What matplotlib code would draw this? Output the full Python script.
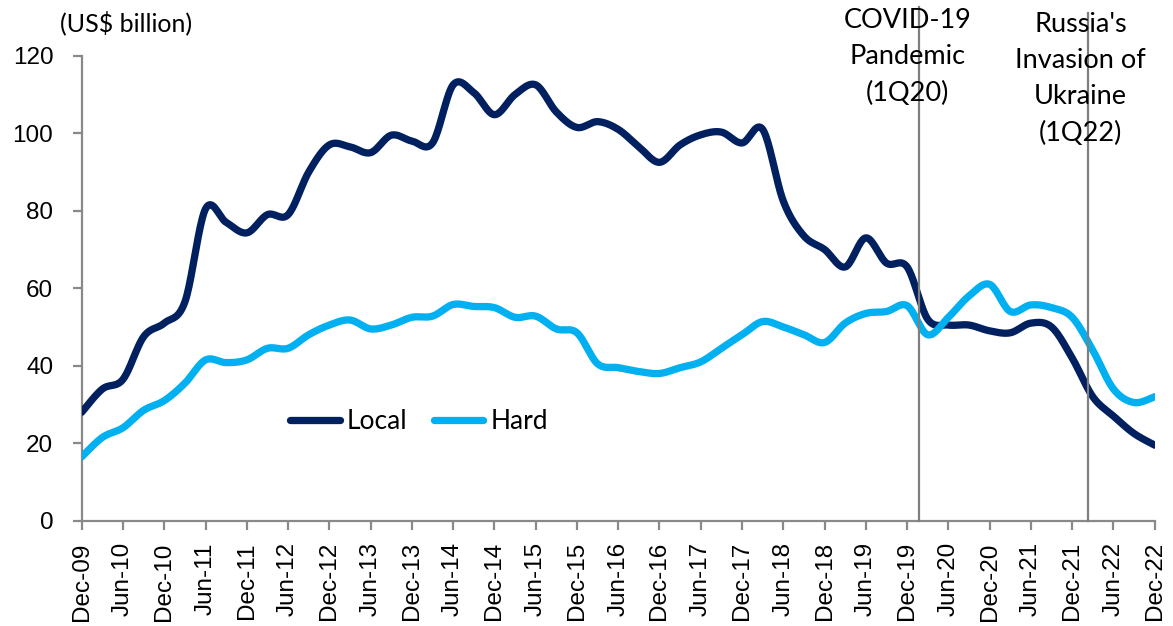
import numpy as np
import matplotlib
matplotlib.use("Agg")
import matplotlib.pyplot as plt

# quarterly issuance, Dec-09 .. Dec-22 (US$ billion)
local = [28, 34, 36.5, 47.5, 51, 56.5, 80.5, 77, 74.3, 79, 79, 90, 97,
         96.5, 95, 99.5, 98, 97.5, 112.5, 110.5, 104.8, 110, 112.5, 105.5,
         101.5, 103, 101, 96.5, 92.5, 97, 99.6, 100.3, 97.5, 101, 82.5,
         73.5, 70, 65.5, 73, 66.5, 65.5, 52, 50.5, 50.5, 49, 48.5, 51, 50,
         42, 32, 27, 22.5, 19.5]
hard = [16.5, 21.5, 24, 28.5, 31, 35.5, 41.5, 40.8, 41.5, 44.5, 44.5, 48,
        50.5, 51.8, 49.5, 50.5, 52.5, 52.8, 55.8, 55.3, 55, 52.5, 52.8,
        49.5, 48.5, 40.5, 39.5, 38.5, 38, 39.5, 41, 44.5, 48, 51.4, 50, 48,
        46, 51, 53.5, 54, 55.5, 48, 52.5, 58, 61, 54, 55.7, 55, 52.5, 44,
        34, 30.5, 32]
tick_labels = ["Dec-09", "Jun-10", "Dec-10", "Jun-11", "Dec-11", "Jun-12",
               "Dec-12", "Jun-13", "Dec-13", "Jun-14", "Dec-14", "Jun-15",
               "Dec-15", "Jun-16", "Dec-16", "Jun-17", "Dec-17", "Jun-18",
               "Dec-18", "Jun-19", "Dec-19", "Jun-20", "Dec-20", "Jun-21",
               "Dec-21", "Jun-22", "Dec-22"]
events = ["COVID-19\nPandemic\n(1Q20)", "Russia's\nInvasion of\nUkraine\n(1Q22)"]
event_pos = [40.6, 48.75]  # quarter index of the marker lines

LOCAL_COL = "#002060"
HARD_COL = "#00B0F0"
GREY = "#898989"
TXT_FONT = ["Lato", "DejaVu Sans"]
TICK_FONT = ["Liberation Sans", "DejaVu Sans"]


def smooth(y, n=20):
    """Excel-like smoothed line (Catmull-Rom through every point)."""
    y = np.asarray(y, float)
    x = np.arange(len(y), dtype=float)
    pts = np.column_stack([x, y])
    out = []
    for i in range(len(pts) - 1):
        p0 = pts[max(i - 1, 0)]
        p1 = pts[i]
        p2 = pts[i + 1]
        p3 = pts[min(i + 2, len(pts) - 1)]
        c1 = p1 + (p2 - p0) / 6
        c2 = p2 - (p3 - p1) / 6
        t = np.linspace(0, 1, n, endpoint=False)[:, None]
        seg = ((1 - t)**3 * p1 + 3 * (1 - t)**2 * t * c1
               + 3 * (1 - t) * t**2 * c2 + t**3 * p2)
        out.append(seg)
    out.append(pts[-1:])
    out = np.vstack(out)
    return out[:, 0], out[:, 1]


fig = plt.figure(figsize=(11.73, 6.26), dpi=100)
ax = fig.add_axes([0.0697, 0.1682, 0.9147, 0.7427])

for data, col, name in [(local, LOCAL_COL, "Local"), (hard, HARD_COL, "Hard")]:
    xs, ys = smooth(data)
    ax.plot(xs, ys, color=col, lw=5.25, solid_capstyle="round", label=name,
            zorder=3)

# event marker lines run above the plot area
tops = [132.6, 131]
for xp, top in zip(event_pos, tops):
    ax.plot([xp, xp], [0, top], color="#7f7f7f", lw=1.6, clip_on=False,
            zorder=4)

ax.set_xlim(0, len(local) - 1)
ax.set_ylim(0, 120)
ax.set_yticks(np.arange(0, 121, 20))
ax.set_xticks(np.arange(0, len(local), 2))
ax.set_xticklabels(tick_labels, rotation=90, family=TICK_FONT, fontsize=17.5)
for lab in ax.get_yticklabels():
    lab.set_family(TICK_FONT)
    lab.set_fontsize(17.5)

for s in ["top", "right"]:
    ax.spines[s].set_visible(False)
for s in ["left", "bottom"]:
    ax.spines[s].set_color(GREY)
    ax.spines[s].set_linewidth(1.6)
ax.tick_params(axis="both", color=GREY, width=1.6, length=6.5)
ax.tick_params(axis="y", pad=14)
ax.tick_params(axis="x", pad=9)

fig.text(60 / 1173, 1 - 23 / 626, "(US$ billion)", family=TXT_FONT,
         fontsize=18, va="center", ha="left")

# centre of the first line of each note, then fixed line spacing (px)
note_x = [907.5, 1080.5]
note_y = [20, 24]
for txt, nx, ny in zip(events, note_x, note_y):
    for k, line in enumerate(txt.split("\n")):
        fig.text(nx / 1173, 1 - (ny + k * 36.5) / 626, line, family=TXT_FONT,
                 fontsize=19.5, ha="center", va="center")

leg = ax.legend(loc="center left", bbox_to_anchor=(0.1945, 0.213), ncol=2,
                frameon=False, borderpad=0, borderaxespad=0,
                handlelength=1.86, handletextpad=0.28, columnspacing=1.0,
                prop={"family": TXT_FONT, "size": 19})

fig.savefig("out.png", dpi=100)
